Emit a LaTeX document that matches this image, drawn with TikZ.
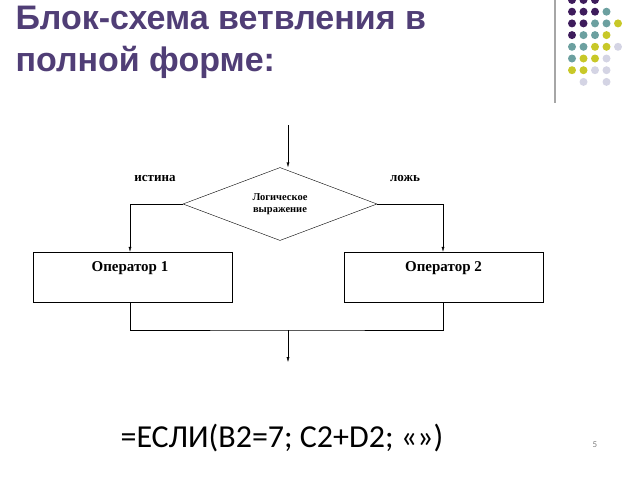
\documentclass[tikz,border=0pt]{standalone}
\usepackage{fontspec}
\setmainfont{Liberation Serif}
\newfontfamily\titlefont{Liberation Sans}
\newfontfamily\formulafont{Carlito}
\usetikzlibrary{shapes.geometric,arrows.meta}
\definecolor{titlepurple}{RGB}{80,62,118}
\definecolor{dotpurple}{RGB}{62,28,92}
\definecolor{dotteal}{RGB}{108,160,160}
\definecolor{dotyellow}{RGB}{200,200,40}
\definecolor{dotlilac}{RGB}{212,212,228}
\tikzset{
  opbox/.style={draw,thin,minimum width=199pt,minimum height=50pt,inner sep=0pt},
  optext/.style={font=\bfseries\fontsize{15}{17}\selectfont},
  flow/.style={thin,-{Latex[length=5pt,width=3pt]}},
  dot/.style={circle,inner sep=0pt,minimum size=8pt}
}
\begin{document}
\begin{tikzpicture}[x=1pt,y=-1pt]
    \useasboundingbox (0,0) rectangle (640,480);

    % title
    \node[anchor=west,font=\titlefont\bfseries\fontsize{34}{42}\selectfont,text=titlepurple,align=left] (title) at (12,42)
      {Блок-схема ветвления в\\полной форме:};

    % decoration in the corner
    \draw[gray!70,line width=1.5pt] (555,0) -- (555,103);
    \foreach \c/\r/\col in {0/0/dotpurple,1/0/dotpurple,2/0/dotpurple,
        0/1/dotpurple,1/1/dotpurple,2/1/dotpurple,3/1/dotteal,
        0/2/dotpurple,1/2/dotpurple,2/2/dotteal,3/2/dotteal,4/2/dotyellow,
        0/3/dotpurple,1/3/dotteal,2/3/dotteal,3/3/dotyellow,
        0/4/dotteal,1/4/dotteal,2/4/dotyellow,3/4/dotyellow,4/4/dotlilac,
        0/5/dotteal,1/5/dotyellow,2/5/dotyellow,3/5/dotlilac,
        0/6/dotyellow,1/6/dotyellow,2/6/dotlilac,3/6/dotlilac,
        1/7/dotlilac,3/7/dotlilac}{
      \node[dot,fill=\col] at (572+11.5*\c,0+11.7*\r) {};
    }

    % flowchart
    \coordinate (in) at (288,125);
    \node[diamond,draw,thin,minimum width=194pt,minimum height=73pt,inner sep=0pt,aspect=2.66,
          align=center,font=\bfseries\fontsize{10.5}{12}\selectfont] (cond) at (280,204)
      {Логическое\\выражение};
    \node[opbox] (op1) at (132.5,277) {};
    \node[opbox] (op2) at (443.5,277) {};
    \node[optext] (t1) at (130,268) {Оператор 1};
    \node[optext] (t2) at (443.5,268) {Оператор 2};
    \node[font=\bfseries\fontsize{13}{15}\selectfont] (yes) at (155,178) {истина};
    \node[font=\bfseries\fontsize{13}{15}\selectfont] (no) at (405,178) {ложь};
    \coordinate (join) at (288,330);
    \coordinate (out) at (288,362);

    \draw[flow] (in) -- (in |- cond.north);
    \draw[flow] (cond.west) -| (op1.north -| 130,0);
    \draw[flow] (cond.east) -| (op2.north -| 443,0);
    \draw[thin] (op1.south -| 130,0) |- (join) -| (op2.south -| 443,0);
    \draw[flow] (join) -- (out);

    % formula
    \node[font=\formulafont\fontsize{32}{38}\selectfont] (formula) at (282,438) {=ЕСЛИ(B2=7; C2+D2; «»)};
    \node[font=\formulafont\fontsize{9}{10}\selectfont,text=gray] (page) at (595,445) {5};
\end{tikzpicture}
\end{document}
